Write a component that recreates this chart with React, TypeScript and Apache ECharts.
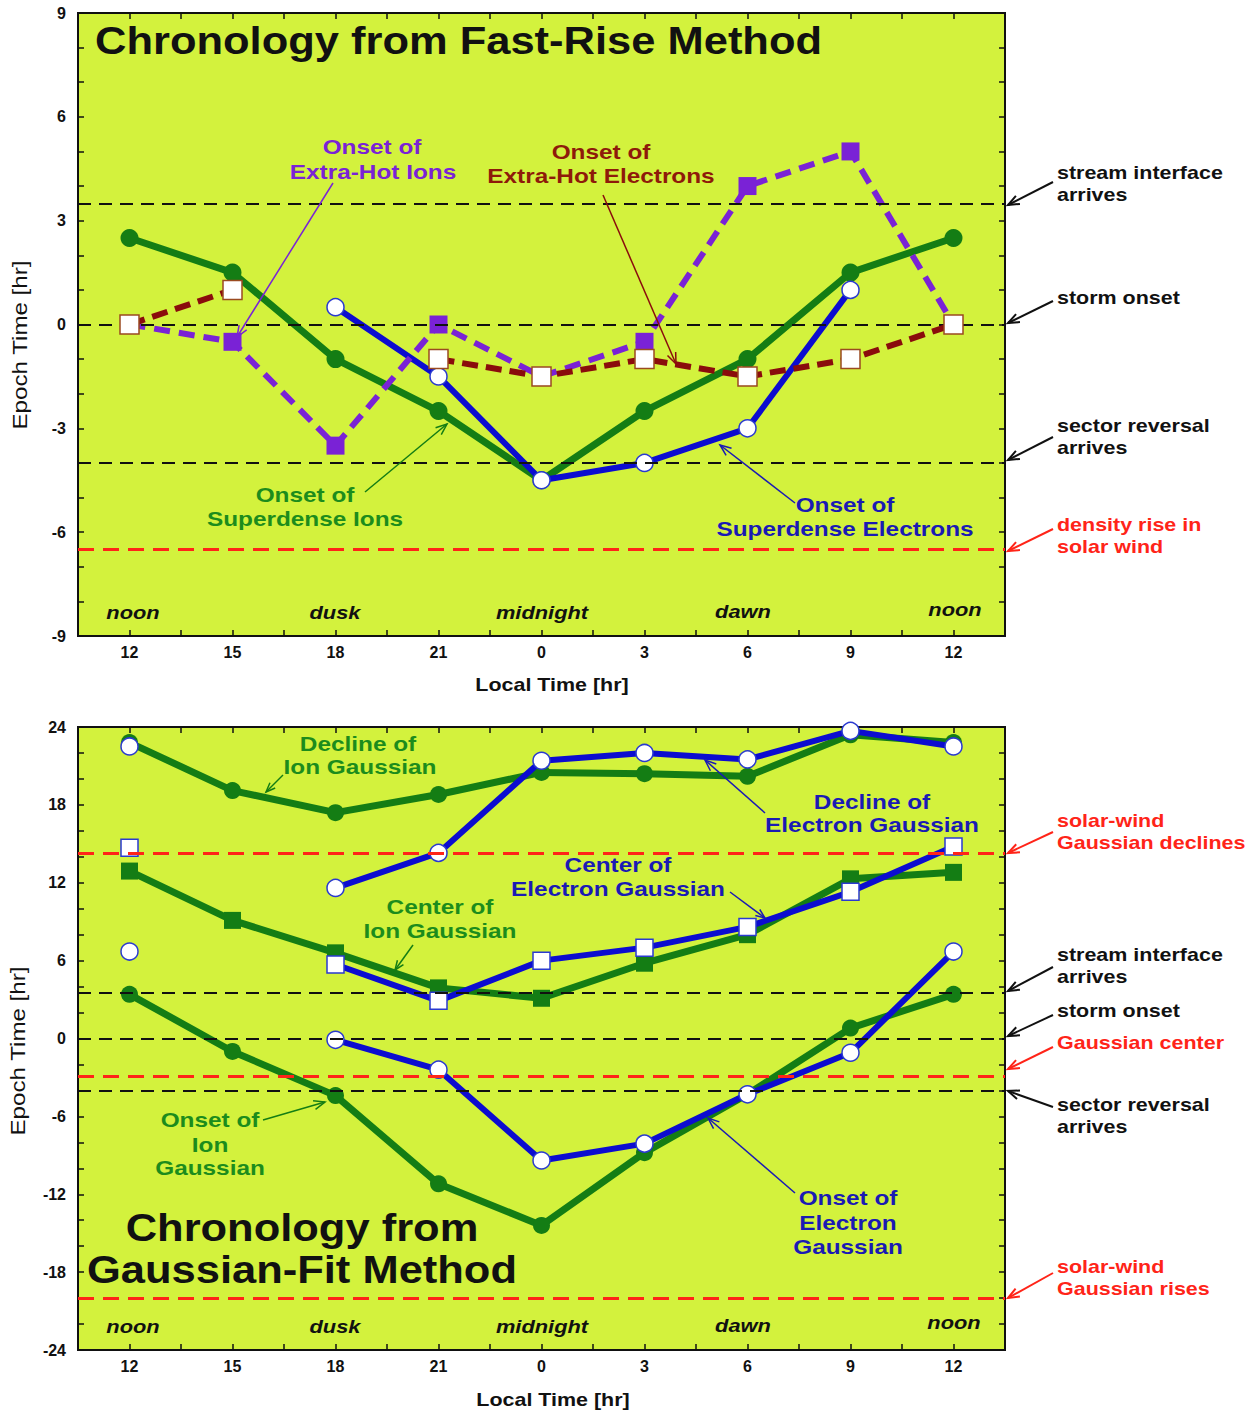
import React, { useEffect, useRef } from "react";
import * as echarts from "echarts";

// ---------- data ----------
const hourLabels = ["12", "15", "18", "21", "0", "3", "6", "9", "12"];

// Top panel (Fast-Rise Method), epoch time [hr]
const superdenseIons = [2.5, 1.5, -1, -2.5, -4.5, -2.5, -1, 1.5, 2.5];
const superdenseElectrons = [null, null, 0.5, -1.5, -4.5, -4, -3, 1, null];
const extraHotIons = [0, -0.5, -3.5, 0, -1.5, -0.5, 4, 5, 0];
const extraHotElectrons = [0, 1, null, -1, -1.5, -1, -1.5, -1, 0];
const topBlackLines = [3.5, 0, -4];
const topRedLines = [-6.5];

// Bottom panel (Gaussian-Fit Method)
const ionDecline = [22.8, 19.1, 17.4, 18.8, 20.5, 20.4, 20.2, 23.4, 22.8];
const electronDecline = [22.5, null, 11.6, 14.3, 21.4, 22.0, 21.5, 23.7, 22.5];
const ionCenter = [12.9, 9.1, 6.6, 3.9, 3.1, 5.8, 8.0, 12.3, 12.8];
const electronCenter = [14.7, null, 5.7, 2.9, 6.0, 7.0, 8.6, 11.3, 14.8];
const ionOnset = [3.4, -1.0, -4.4, -11.2, -14.4, -8.8, -4.3, 0.8, 3.4];
const electronOnset = [6.7, null, -0.1, -2.4, -9.4, -8.1, -4.3, -1.1, 6.7];
const bottomBlackLines = [3.5, 0, -4];
const bottomRedLines = [14.3, -2.9, -20];

// ---------- styles ----------
const FONT = '"Liberation Sans", Arial, Helvetica, sans-serif';
const BG = "#d3f23d";
const GREEN = "#147d14";
const GREEN_T = "#1c8c1c";
const BLUE = "#0c0cd0";
const BLUE_T = "#1a1ab4";
const PURPLE = "#7a22d6";
const DRED = "#8a0c0c";
const DRED_T = "#8e1a0a";
const RED = "#ff2418";
const BLACK = "#111";

const fmtX = (v: number) => {
  const i = Math.round(v);
  if (Math.abs(v - i) < 1e-6 && i >= 0 && i < hourLabels.length) return hourLabels[i];
  return "";
};

function xAxisDef(gridIndex: number, position: string, showLabel: boolean) {
  return {
    type: "value",
    gridIndex,
    position,
    min: -0.5,
    max: 8.5,
    interval: 0.5,
    axisLine: { show: true, onZero: false, lineStyle: { color: BLACK, width: 2 } },
    axisTick: { show: true, inside: true, length: 6, lineStyle: { color: BLACK, width: 1.5 } },
    splitLine: { show: false },
    axisLabel: {
      show: showLabel,
      formatter: fmtX,
      color: BLACK,
      fontWeight: "bold",
      fontSize: 16,
      fontFamily: FONT,
      margin: 8,
      showMinLabel: true,
      showMaxLabel: true,
    },
  };
}

function yAxisDef(gridIndex: number, position: string, showLabel: boolean, min: number, max: number, interval: number) {
  return {
    type: "value",
    gridIndex,
    position,
    min,
    max,
    interval,
    axisLine: { show: true, onZero: false, lineStyle: { color: BLACK, width: 2 } },
    axisTick: { show: true, inside: true, length: 6, lineStyle: { color: BLACK, width: 1.5 } },
    minorTick: { show: true, splitNumber: 3, length: 6, lineStyle: { color: BLACK, width: 1.5 } },
    splitLine: { show: false },
    minorSplitLine: { show: false },
    axisLabel: {
      show: showLabel,
      color: BLACK,
      fontWeight: "bold",
      fontSize: 16,
      fontFamily: FONT,
      margin: 12,
    },
  };
}

function toData(vals: (number | null)[]) {
  return vals.map((v, i) => [i, v == null ? "-" : v]);
}

function lineSeries(
  name: string,
  vals: (number | null)[],
  xi: number,
  yi: number,
  opt: { color: string; width: number; dash?: number[]; symbol: string; size: number; fill: string; border: string; borderW: number; z: number }
) {
  return {
    name,
    type: "line",
    xAxisIndex: xi,
    yAxisIndex: yi,
    data: toData(vals),
    connectNulls: false,
    symbol: opt.symbol,
    symbolSize: opt.size,
    showSymbol: true,
    showAllSymbol: true,
    z: opt.z,
    lineStyle: { color: opt.color, width: opt.width, type: opt.dash || "solid", cap: "butt", join: "round" },
    itemStyle: { color: opt.fill, borderColor: opt.border, borderWidth: opt.borderW },
  };
}

function refLines(xi: number, yi: number, black: number[], red: number[]) {
  return {
    type: "line",
    xAxisIndex: xi,
    yAxisIndex: yi,
    data: [[0, 0]],
    symbol: "none",
    lineStyle: { opacity: 0 },
    z: 1,
    silent: true,
    markLine: {
      silent: true,
      symbol: "none",
      label: { show: false },
      emphasis: { disabled: true },
      data: [
        ...black.map((v) => ({ yAxis: v, lineStyle: { color: BLACK, width: 2, type: [13, 8] } })),
        ...red.map((v) => ({ yAxis: v, lineStyle: { color: RED, width: 3, type: [16, 9] } })),
      ],
    },
  };
}

// ---------- graphic helpers ----------
function txt(text: string, x: number, y: number, color: string, size: number, align = "center", style = "bold", sx = 1.14, rotation = 0) {
  return {
    type: "text",
    x,
    y,
    scaleX: sx,
    rotation,
    z: 100,
    silent: true,
    style: {
      text,
      fill: color,
      font: `${style} ${size}px ${FONT}`,
      textAlign: align,
      textVerticalAlign: "middle",
      align,
      verticalAlign: "middle",
    },
  };
}

function arrow(x1: number, y1: number, x2: number, y2: number, color: string, w = 1.6, head = 12) {
  const a = Math.atan2(y2 - y1, x2 - x1);
  const p1 = [x2 - head * Math.cos(a - 0.38), y2 - head * Math.sin(a - 0.38)];
  const p2 = [x2 - head * Math.cos(a + 0.38), y2 - head * Math.sin(a + 0.38)];
  return [
    { type: "line", z: 100, silent: true, shape: { x1, y1, x2, y2 }, style: { stroke: color, lineWidth: w } },
    { type: "polyline", z: 100, silent: true, shape: { points: [p1, [x2, y2], p2] }, style: { stroke: color, lineWidth: w, fill: null } },
  ];
}

function buildGraphics() {
  const g: any[] = [];
  const A = 1.16; // annotation stretch
  const R = 1.13; // right label stretch
  // Top panel
  g.push(txt("Chronology from Fast-Rise Method", 95, 41, BLACK, 39, "left", "bold", 1.115));
  g.push(txt("Onset of", 372, 147, PURPLE, 21, "center", "bold", A));
  g.push(txt("Extra-Hot Ions", 373, 172, PURPLE, 21, "center", "bold", A));
  g.push(...arrow(333, 183, 237, 337, PURPLE, 1.5));
  g.push(txt("Onset of", 601, 152, DRED_T, 21, "center", "bold", A));
  g.push(txt("Extra-Hot Electrons", 601, 176, DRED_T, 21, "center", "bold", A));
  g.push(...arrow(603, 195, 676, 364, DRED, 1.5));
  g.push(txt("Onset of", 305, 495, GREEN_T, 21, "center", "bold", A));
  g.push(txt("Superdense Ions", 305, 519, GREEN_T, 21, "center", "bold", A));
  g.push(...arrow(365, 492, 447, 424, GREEN, 1.5));
  g.push(txt("Onset of", 845, 505, BLUE_T, 21, "center", "bold", A));
  g.push(txt("Superdense Electrons", 845, 529, BLUE_T, 21, "center", "bold", A));
  g.push(...arrow(795, 503, 720, 445, BLUE_T, 1.5));
  const tod = [["noon", 133, 612], ["dusk", 335, 612], ["midnight", 542, 612], ["dawn", 743, 611], ["noon", 955, 609]];
  tod.forEach(([t, x, y]) => g.push(txt(t as string, x as number, y as number, BLACK, 19, "center", "italic bold", 1.15)));
  // right labels top
  g.push(txt("stream interface", 1057, 172, BLACK, 19, "left", "bold", R));
  g.push(txt("arrives", 1057, 194, BLACK, 19, "left", "bold", R));
  g.push(...arrow(1053, 182, 1008, 205, BLACK, 2));
  g.push(txt("storm onset", 1057, 297, BLACK, 19, "left", "bold", R));
  g.push(...arrow(1053, 301, 1008, 323, BLACK, 2));
  g.push(txt("sector reversal", 1057, 425, BLACK, 19, "left", "bold", R));
  g.push(txt("arrives", 1057, 447, BLACK, 19, "left", "bold", R));
  g.push(...arrow(1053, 437, 1008, 460, BLACK, 2));
  g.push(txt("density rise in", 1057, 524, RED, 19, "left", "bold", R));
  g.push(txt("solar wind", 1057, 546, RED, 19, "left", "bold", R));
  g.push(...arrow(1053, 529, 1008, 551, RED, 2));
  // axis names top
  g.push(txt("Epoch Time [hr]", 20, 345, BLACK, 21, "center", "normal", 1.15, Math.PI / 2));
  g.push(txt("Local Time [hr]", 552, 684, BLACK, 19, "center", "bold", 1.13));

  // Bottom panel
  g.push(txt("Decline of", 358, 744, GREEN_T, 21, "center", "bold", A));
  g.push(txt("Ion Gaussian", 360, 767, GREEN_T, 21, "center", "bold", A));
  g.push(...arrow(283, 775, 266, 792, GREEN, 1.5, 10));
  g.push(txt("Decline of", 872, 802, BLUE_T, 21, "center", "bold", A));
  g.push(txt("Electron Gaussian", 872, 825, BLUE_T, 21, "center", "bold", A));
  g.push(...arrow(765, 813, 705, 760, BLUE_T, 1.5));
  g.push(txt("Center of", 618, 865, BLUE_T, 21, "center", "bold", A));
  g.push(txt("Electron Gaussian", 618, 889, BLUE_T, 21, "center", "bold", A));
  g.push(...arrow(730, 892, 765, 918, BLUE_T, 1.5, 10));
  g.push(txt("Center of", 440, 907, GREEN_T, 21, "center", "bold", A));
  g.push(txt("Ion Gaussian", 440, 931, GREEN_T, 21, "center", "bold", A));
  g.push(...arrow(413, 945, 395, 970, GREEN, 1.5, 10));
  g.push(txt("Onset of", 210, 1120, GREEN_T, 21, "center", "bold", A));
  g.push(txt("Ion", 210, 1145, GREEN_T, 21, "center", "bold", A));
  g.push(txt("Gaussian", 210, 1168, GREEN_T, 21, "center", "bold", A));
  g.push(...arrow(263, 1120, 325, 1102, GREEN, 1.5));
  g.push(txt("Onset of", 848, 1198, BLUE_T, 21, "center", "bold", A));
  g.push(txt("Electron", 848, 1223, BLUE_T, 21, "center", "bold", A));
  g.push(txt("Gaussian", 848, 1247, BLUE_T, 21, "center", "bold", A));
  g.push(...arrow(795, 1193, 708, 1118, BLUE_T, 1.5));
  g.push(txt("Chronology from", 302, 1228, BLACK, 39, "center", "bold", 1.115));
  g.push(txt("Gaussian-Fit Method", 302, 1270, BLACK, 39, "center", "bold", 1.115));
  const tod2 = [["noon", 133, 1326], ["dusk", 335, 1326], ["midnight", 542, 1326], ["dawn", 743, 1325], ["noon", 954, 1322]];
  tod2.forEach(([t, x, y]) => g.push(txt(t as string, x as number, y as number, BLACK, 19, "center", "italic bold", 1.15)));
  // right labels bottom
  g.push(txt("solar-wind", 1057, 820, RED, 19, "left", "bold", R));
  g.push(txt("Gaussian declines", 1057, 842, RED, 19, "left", "bold", R));
  g.push(...arrow(1053, 832, 1008, 853, RED, 2));
  g.push(txt("stream interface", 1057, 954, BLACK, 19, "left", "bold", R));
  g.push(txt("arrives", 1057, 976, BLACK, 19, "left", "bold", R));
  g.push(...arrow(1053, 967, 1008, 991, BLACK, 2));
  g.push(txt("storm onset", 1057, 1010, BLACK, 19, "left", "bold", R));
  g.push(...arrow(1053, 1015, 1008, 1036, BLACK, 2));
  g.push(txt("Gaussian center", 1057, 1042, RED, 19, "left", "bold", R));
  g.push(...arrow(1053, 1047, 1008, 1069, RED, 2));
  g.push(txt("sector reversal", 1057, 1104, BLACK, 19, "left", "bold", R));
  g.push(txt("arrives", 1057, 1126, BLACK, 19, "left", "bold", R));
  g.push(...arrow(1053, 1107, 1008, 1091, BLACK, 2));
  g.push(txt("solar-wind", 1057, 1266, RED, 19, "left", "bold", R));
  g.push(txt("Gaussian rises", 1057, 1288, RED, 19, "left", "bold", R));
  g.push(...arrow(1053, 1273, 1008, 1298, RED, 2));
  g.push(txt("Epoch Time [hr]", 18, 1051, BLACK, 21, "center", "normal", 1.15, Math.PI / 2));
  g.push(txt("Local Time [hr]", 553, 1399, BLACK, 19, "center", "bold", 1.13));
  return g;
}

export default function App() {
  const ref = useRef<HTMLDivElement>(null);
  useEffect(() => {
    document.body.style.margin = "0";
    if (!ref.current) return;
    const chart = echarts.init(ref.current, undefined, { renderer: "svg" });
    const greenCircle = { color: GREEN, width: 7, symbol: "circle", size: 17, fill: GREEN, border: GREEN, borderW: 0 };
    const greenSquare = { color: GREEN, width: 7, symbol: "rect", size: 17, fill: GREEN, border: GREEN, borderW: 0 };
    const blueCircle = { color: BLUE, width: 6, symbol: "circle", size: 17, fill: "#ffffff", border: "#2a3ad0", borderW: 1.5 };
    const blueSquare = { color: BLUE, width: 6, symbol: "rect", size: 17, fill: "#ffffff", border: "#2a3ad0", borderW: 1.5 };
    const option: any = {
      animation: false,
      backgroundColor: "#ffffff",
      grid: [
        { left: 78, top: 13, width: 927, height: 623, show: true, backgroundColor: BG, borderColor: BLACK, borderWidth: 2, containLabel: false },
        { left: 78, top: 727, width: 927, height: 623, show: true, backgroundColor: BG, borderColor: BLACK, borderWidth: 2, containLabel: false },
      ],
      xAxis: [xAxisDef(0, "bottom", true), xAxisDef(0, "top", false), xAxisDef(1, "bottom", true), xAxisDef(1, "top", false)],
      yAxis: [
        yAxisDef(0, "left", true, -9, 9, 3),
        yAxisDef(0, "right", false, -9, 9, 3),
        yAxisDef(1, "left", true, -24, 24, 6),
        yAxisDef(1, "right", false, -24, 24, 6),
      ],
      series: [
        refLines(0, 0, topBlackLines, topRedLines),
        lineSeries("Onset of Superdense Ions", superdenseIons, 0, 0, { ...greenCircle, width: 7, size: 18, z: 2 }),
        lineSeries("Onset of Superdense Electrons", superdenseElectrons, 0, 0, { ...blueCircle, z: 3 }),
        lineSeries("Onset of Extra-Hot Ions", extraHotIons, 0, 0, {
          color: PURPLE, width: 6, dash: [16, 9], symbol: "rect", size: 18, fill: PURPLE, border: PURPLE, borderW: 0, z: 4,
        }),
        lineSeries("Onset of Extra-Hot Electrons", extraHotElectrons, 0, 0, {
          color: DRED, width: 6, dash: [16, 8], symbol: "rect", size: 19, fill: "#ffffff", border: "#9a4a20", borderW: 1.5, z: 5,
        }),
        refLines(2, 2, bottomBlackLines, bottomRedLines),
        lineSeries("Decline of Ion Gaussian", ionDecline, 2, 2, { ...greenCircle, z: 2 }),
        lineSeries("Center of Ion Gaussian", ionCenter, 2, 2, { ...greenSquare, z: 2 }),
        lineSeries("Onset of Ion Gaussian", ionOnset, 2, 2, { ...greenCircle, z: 2 }),
        lineSeries("Decline of Electron Gaussian", electronDecline, 2, 2, { ...blueCircle, z: 3 }),
        lineSeries("Center of Electron Gaussian", electronCenter, 2, 2, { ...blueSquare, z: 3 }),
        lineSeries("Onset of Electron Gaussian", electronOnset, 2, 2, { ...blueCircle, z: 3 }),
      ],
      graphic: buildGraphics(),
    };
    chart.setOption(option);
    return () => chart.dispose();
  }, []);
  return <div ref={ref} style={{ width: 1258, height: 1413 }} />;
}
